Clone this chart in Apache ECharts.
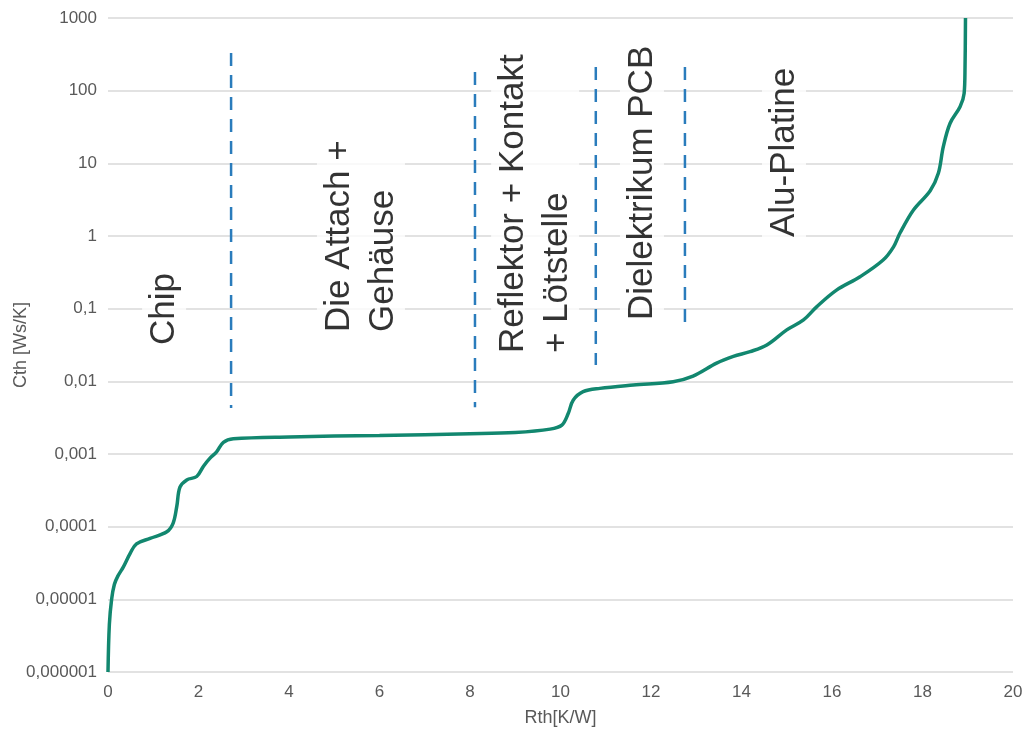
<!DOCTYPE html>
<html>
<head>
<meta charset="utf-8">
<script src="https://cdn.jsdelivr.net/npm/echarts@6/dist/echarts.min.js"></script>
<style>
  html, body { margin: 0; padding: 0; background: #fff; }
  #chart { width: 1027px; height: 734px; }
</style>
</head>
<body>
<div id="chart"></div>
<script>
// Thermal structure function: cumulative thermal capacitance vs. cumulative thermal resistance
const rth = [0, 0.03, 0.08, 0.14, 0.22, 0.34, 0.49, 0.63, 0.93, 1.3, 1.44, 1.52, 1.59, 1.74, 1.96,
  2.11, 2.25, 2.40, 2.55, 2.77, 4.0, 6.0, 8.0, 9.0, 9.77, 10.03, 10.17, 10.28, 10.5, 10.87,
  11.61, 12.49, 12.93, 13.45, 13.82, 14.19, 14.56, 15.0, 15.37, 15.66, 16.10, 16.62, 17.13,
  17.36, 17.5, 17.8, 18.17, 18.35, 18.46, 18.61, 18.83, 18.92, 18.94, 18.95];
const cth = [1.0e-6, 4.5e-6, 1.0e-5, 1.6e-5, 2.1e-5, 2.8e-5, 4.3e-5, 5.8e-5, 6.9e-5, 8.5e-5, 1.12e-4,
  1.9e-4, 3.5e-4, 4.4e-4, 4.9e-4, 6.8e-4, 8.7e-4, 1.07e-3, 1.45e-3, 1.62e-3, 1.72e-3, 1.8e-3,
  1.9e-3, 1.98e-3, 2.2e-3, 2.5e-3, 3.6e-3, 5.5e-3, 7.2e-3, 8.0e-3, 8.9e-3, 9.9e-3, 0.0118,
  0.0178, 0.022, 0.0256, 0.0316, 0.051, 0.070, 0.106, 0.18, 0.275, 0.467, 0.71, 1.09, 2.28,
  4.2, 7.3, 17, 35.6, 60, 92, 214, 1000];

// Layer boundaries (dashed markers)
const boundaryRth = [2.72, 8.11, 10.78, 12.75];
const boundaryTop = [330, 181, 212, 212];
const boundaryBottom = [0.0043, 0.0044, 0.0168, 0.06];

// Layer names, anchored at the lower end of each rotated label
const layerNames = ['Chip', 'Die Attach +\nGehäuse', 'Reflektor + Kontakt\n+ Lötstelle', 'Dielektrikum PCB', 'Alu-Platine'];
const layerLabelRth = [1.24, 5.59, 9.44, 11.80, 14.94];
const layerLabelCth = [0.0288, 0.0435, 0.0223, 0.0635, 0.881];

// Y tick labels, decades 1e-6 .. 1e3
const yTickLabels = ['0,000001', '0,00001', '0,0001', '0,001', '0,01', '0,1', '1', '10', '100', '1000'];
const xTickStep = 2;

const chart = echarts.init(document.getElementById('chart'));

const series = [];
series.push({
  type: 'line',
  data: rth.map((x, i) => [x, cth[i]]),
  smooth: 0.35,
  showSymbol: false,
  lineStyle: { color: '#12876f', width: 3.5 },
  z: 3
});
boundaryRth.forEach((x, i) => {
  series.push({
    type: 'line',
    data: [[x, boundaryTop[i]], [x, boundaryBottom[i]]],
    showSymbol: false,
    lineStyle: { color: '#2a7cbc', width: 2.5, type: [13, 9] },
    z: 2
  });
});
series.push({
  type: 'scatter',
  data: layerLabelRth.map((x, i) => ({ value: [x, layerLabelCth[i]], name: layerNames[i] })),
  symbolSize: 1,
  itemStyle: { color: 'rgba(0,0,0,0)' },
  z: 4,
  label: {
    show: true,
    position: 'inside',
    formatter: p => p.name,
    rotate: 90,
    align: 'left',
    verticalAlign: 'middle',
    fontFamily: 'Liberation Sans',
    fontSize: 35,
    lineHeight: 44,
    color: '#000',
    backgroundColor: '#fff',
    padding: [0, 3]
  }
});

chart.setOption({
  animation: false,
  backgroundColor: '#fff',
  grid: { left: 108, right: 14, top: 18, bottom: 62, outerBoundsMode: 'none' },
  xAxis: {
    type: 'value',
    min: 0,
    max: 20,
    interval: xTickStep,
    name: 'Rth[K/W]',
    nameLocation: 'middle',
    nameGap: 37,
    nameMoveOverlap: false,
    nameTextStyle: { fontFamily: 'Liberation Sans', fontSize: 18, color: '#595959' },
    axisLine: { show: false },
    axisTick: { show: false },
    splitLine: { show: false },
    axisLabel: { fontFamily: 'Liberation Sans', fontSize: 17, color: '#595959', margin: 12 }
  },
  yAxis: {
    type: 'log',
    logBase: 10,
    min: 1e-6,
    max: 1000,
    name: 'Cth [Ws/K]',
    nameLocation: 'middle',
    nameGap: 78,
    nameMoveOverlap: false,
    nameTextStyle: { fontFamily: 'Liberation Sans', fontSize: 18, color: '#595959' },
    axisLine: { show: false },
    axisTick: { show: false },
    splitLine: { show: true, lineStyle: { color: '#d9d9d9', width: 1.5 } },
    axisLabel: {
      fontFamily: 'Liberation Sans',
      fontSize: 17,
      color: '#595959',
      margin: 11,
      formatter: v => yTickLabels[Math.round(Math.log10(v)) + 6]
    }
  },
  series
});
</script>
</body>
</html>
